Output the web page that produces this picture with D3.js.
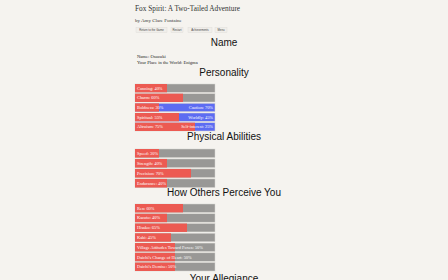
<!DOCTYPE html>
<html><head><meta charset="utf-8">
<script src="https://cdn.jsdelivr.net/npm/d3@7"></script>
<style>html,body{margin:0;padding:0;background:#f5f3ef;overflow:hidden}</style>
</head><body>
<script>
const personalityLabels = ["Cunning", "Charm", "Boldness", "Spiritual", "Altruism"];
const personalityValues = [40, 60, 30, 55, 75];
const personalityRight = [null, null, "Caution", "Worldly", "Self-interest"];
const physicalLabels = ["Speed", "Strength", "Precision", "Endurance"];
const physicalValues = [30, 40, 70, 40];
const perceiveLabels = ["Ren", "Kazuto", "Hisako", "Kabi", "Village Attitudes Toward Foxes", "Daichi's Change of Heart", "Daichi's Demise"];
const perceiveValues = [60, 40, 65, 45, 50, 50, 50];
const headings = ["Name", "Personality", "Physical Abilities", "How Others Perceive You", "Your Allegiance"];
const buttons = ["Return to the Game", "Restart", "Achievements", "Menu"];

const W = 448, H = 280;
const svg = d3.select("body").append("svg").attr("width", W).attr("height", H);
svg.append("rect").attr("width", W).attr("height", H).attr("fill", "#f5f3ef");

const serif = "'Liberation Serif', 'DejaVu Serif', serif";
const sans = "'Liberation Sans', Arial, sans-serif";

svg.append("text").attr("x", 135).attr("y", 11).attr("font-family", serif)
  .attr("font-size", 7.3).attr("fill", "#333").text("Fox Spirit: A Two-Tailed Adventure");
svg.append("text").attr("x", 135).attr("y", 21.5).attr("font-family", serif)
  .attr("font-size", 5).attr("fill", "#333").text("by Amy Clare Fontaine");

const btnX = [136, 171, 188, 215], btnW = [31, 12, 24, 12];
buttons.forEach((b, i) => {
  svg.append("rect").attr("x", btnX[i]).attr("y", 27.5).attr("width", btnW[i]).attr("height", 5)
    .attr("fill", "#f0eeea").attr("stroke", "#dcdad6").attr("stroke-width", 0.4);
  svg.append("text").attr("x", btnX[i] + btnW[i] / 2).attr("y", 31).attr("text-anchor", "middle")
    .attr("font-family", sans).attr("font-size", 2.8).attr("fill", "#444").text(b);
});

const headY = [46, 76, 140, 196, 281.5];
headings.forEach((h, i) => {
  svg.append("text").attr("x", 224).attr("y", headY[i]).attr("text-anchor", "middle")
    .attr("font-family", sans).attr("font-size", 10).attr("fill", "#111").text(h);
});

svg.append("text").attr("x", 137).attr("y", 58).attr("font-family", serif)
  .attr("font-size", 4.6).attr("fill", "#222").text("Name: Osuzuki");
svg.append("text").attr("x", 137).attr("y", 64).attr("font-family", serif)
  .attr("font-size", 4.6).attr("fill", "#222").text("Your Place in the World: Enigma");

const x = d3.scaleLinear().domain([0, 100]).range([135, 215]);

function section(labels, values, rights, y0, y1) {
  const y = d3.scaleBand().domain(labels).range([y0, y1]).paddingInner(0.14);
  const g = svg.append("g");
  labels.forEach((l, i) => {
    const yy = y(l), h = y.bandwidth();
    const right = rights && rights[i];
    g.append("rect").attr("x", x(0)).attr("y", yy).attr("width", x(100) - x(0)).attr("height", h)
      .attr("fill", right ? "#5d6cf2" : "#999896").attr("stroke", "#d8d6d2").attr("stroke-width", 0.5);
    g.append("rect").attr("x", x(0)).attr("y", yy).attr("width", x(values[i]) - x(0)).attr("height", h)
      .attr("fill", "#ec5a52");
    g.append("text").attr("x", x(0) + 2).attr("y", yy + h * 0.68).attr("font-family", serif)
      .attr("font-size", 4.4).attr("fill", "#fff").text(l + ": " + values[i] + "%");
    if (right) {
      g.append("text").attr("x", x(100) - 2).attr("y", yy + h * 0.68).attr("text-anchor", "end")
        .attr("font-family", serif).attr("font-size", 4.4).attr("fill", "#fff")
        .text(right + ": " + (100 - values[i]) + "%");
    }
  });
}
section(personalityLabels, personalityValues, personalityRight, 84, 131);
section(physicalLabels, physicalValues, null, 149, 187.5);
section(perceiveLabels, perceiveValues, null, 204, 271);
</script>
</body></html>
